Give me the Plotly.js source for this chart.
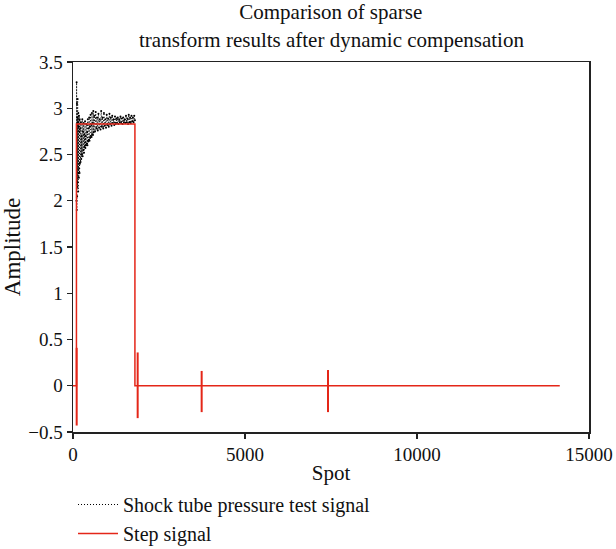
<!DOCTYPE html>
<html>
<head>
<meta charset="utf-8">
<script src="https://cdn.plot.ly/plotly-3.0.1.min.js"></script>
<style>html,body{margin:0;padding:0;background:#fff;}#chart{width:616px;height:549px;}</style>
</head>
<body>
<div id="chart"></div>
<script>
// Shock tube pressure test signal
const signalX = [
  100,105,110,115,120,125,130,135,140,145,150,155,160,165,170,175,180,185,190,195,200,
  210,220,230,240,250,260,270,280,290,300,310,320,330,340,350,360,370,380,390,400,
  410,420,430,440,450,460,470,480,490,500,510,520,530,540,550,560,570,580,590,600,
  620,640,660,680,700,720,740,760,780,800,820,840,860,880,900,920,940,960,980,1000,
  1020,1040,1060,1080,1100,1120,1140,1160,1180,1200,1220,1240,1260,1280,1300,1320,1340,1360,1380,1400,
  1420,1440,1460,1480,1500,1520,1540,1560,1580,1600,1620,1640,1660,1680,1700,1720,1740,1760,1780,1800
];
const signalY = [
  2.00,3.28,1.90,3.05,2.05,2.90,2.15,3.10,2.20,2.85,2.10,2.95,2.30,2.80,2.25,2.92,2.35,2.75,2.30,2.88,2.40,
  2.78,2.42,2.85,2.45,2.70,2.50,2.88,2.48,2.75,2.55,2.84,2.52,2.72,2.58,2.86,2.57,2.70,2.60,2.83,2.62,
  2.74,2.60,2.88,2.64,2.78,2.66,2.90,2.65,2.80,2.68,2.93,2.70,2.82,2.69,2.95,2.72,2.84,2.71,2.97,2.74,
  2.92,2.75,2.96,2.78,2.90,2.76,2.94,2.79,2.88,2.77,2.97,2.80,2.90,2.78,2.95,2.81,2.88,2.79,2.93,2.82,
  2.89,2.80,2.94,2.83,2.90,2.81,2.92,2.84,2.88,2.82,2.91,2.83,2.89,2.84,2.90,2.83,2.88,2.85,2.91,2.84,
  2.89,2.83,2.90,2.85,2.88,2.84,2.92,2.85,2.89,2.83,2.93,2.85,2.90,2.84,2.92,2.86,2.90,2.85,2.92,2.87
];
// Step signal
const stepX = [0, 100, 100, 1800, 1800, 14150];
const stepY = [0, 0, 2.83, 2.83, 0, 0];
// Step signal spikes
const spikeX = [107, 1880, 3740, 7413];
const spikeTop = [0.41, 0.36, 0.16, 0.17];
const spikeBottom = [-0.43, -0.35, -0.285, -0.285];
// Tick labels
const xTicks = [0, 5000, 10000, 15000];
const xTickText = ['0', '5000', '10000', '15000'];
const titleLines = ['Comparison of sparse', 'transform results after dynamic compensation'];

const red = 'rgb(228,38,24)';
const sx = [], sy = [];
spikeX.forEach((x, i) => { sx.push(x, x, null); sy.push(spikeTop[i], spikeBottom[i], null); });

const font = 'Liberation Serif, Times New Roman, serif';
const traces = [
  {x: signalX, y: signalY, mode: 'lines', name: 'Shock tube pressure test signal',
   line: {color: '#000', width: 1, dash: '1px,2px'}},
  {x: signalX, y: signalY, mode: 'markers', showlegend: false, hoverinfo: 'skip',
   marker: {color: '#000', size: 2, line: {width: 0}}},
  {x: stepX, y: stepY, mode: 'lines', name: 'Step signal',
   line: {color: red, width: 1.5}},
  {x: sx, y: sy, mode: 'lines', showlegend: false, hoverinfo: 'skip',
   line: {color: red, width: 2}}
];
const axisCommon = {
  showgrid: false, zeroline: false, showline: true, linecolor: '#222', linewidth: 1.5,
  mirror: true, ticks: 'outside', ticklen: 5, tickwidth: 1.2, tickcolor: '#222',
  tickfont: {family: font, size: 19, color: '#111'}, automargin: true
};
const layout = {
  width: 616, height: 549,
  margin: {l: 73, r: 27, t: 62, b: 117, autoexpand: false},
  paper_bgcolor: '#fff', plot_bgcolor: '#fff',
  font: {family: font, color: '#111'},
  title: {text: titleLines[0], font: {family: font, size: 21, color: '#111'},
          x: 0.537, xanchor: 'center', xref: 'container',
          y: 1 - 12/549, yanchor: 'middle', yref: 'container'},
  annotations: [{text: titleLines[1], xref: 'paper', yref: 'paper', x: 0.5, y: (432 - 40) / 370,
          xanchor: 'center', yanchor: 'middle', showarrow: false,
          font: {family: font, size: 21, color: '#111'}}],
  xaxis: Object.assign({}, axisCommon, {range: [0, 15000], tickvals: xTicks, ticktext: xTickText,
          title: {text: 'Spot', font: {family: font, size: 21}, standoff: 1}}),
  yaxis: Object.assign({}, axisCommon, {range: [-0.5, 3.5], dtick: 0.5,
          title: {text: 'Amplitude', font: {family: font, size: 23}, standoff: 6}}),
  showlegend: true,
  legend: {x: 0, xanchor: 'left', y: (432 - 485) / 370, yanchor: 'top',
           traceorder: 'normal', itemwidth: 40,
           font: {family: font, size: 20, color: '#111'}, bgcolor: 'rgba(0,0,0,0)', tracegroupgap: 0}
};
Plotly.newPlot('chart', traces, layout, {displayModeBar: false, staticPlot: true});
</script>
</body>
</html>
